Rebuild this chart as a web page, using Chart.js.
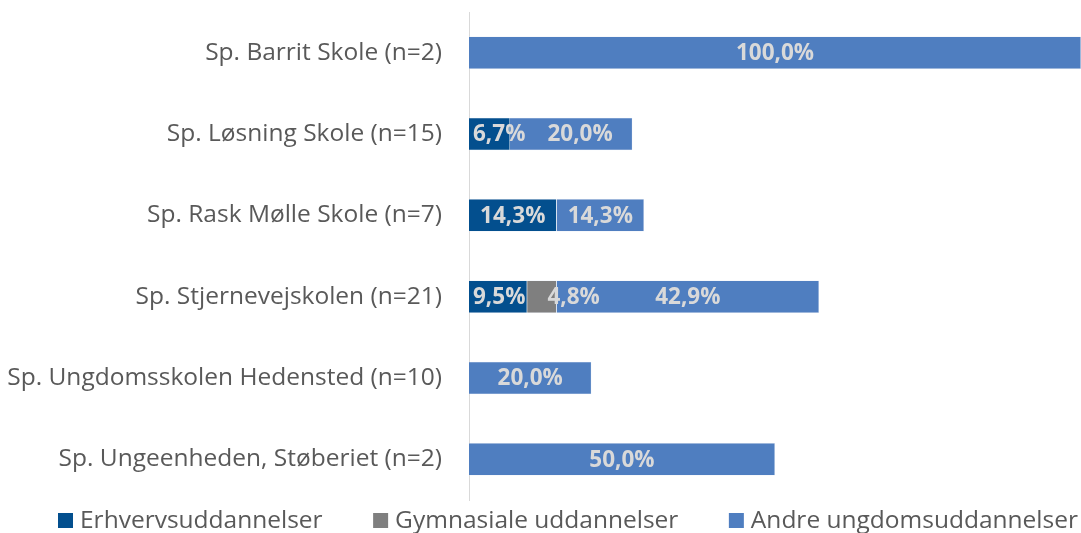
<!DOCTYPE html>
<html>
<head>
<meta charset="utf-8">
<script src="https://cdn.jsdelivr.net/npm/chart.js@4/dist/chart.umd.min.js"></script>
<style>
html,body{margin:0;padding:0;background:#fff;}
#c{display:block;}
</style>
</head>
<body>
<canvas id="c" width="1081" height="533"></canvas>
<script>
const categories = [
  "Sp. Barrit Skole (n=2)",
  "Sp. Løsning Skole (n=15)",
  "Sp. Rask Mølle Skole (n=7)",
  "Sp. Stjernevejskolen (n=21)",
  "Sp. Ungdomsskolen Hedensted (n=10)",
  "Sp. Ungeenheden, Støberiet (n=2)"
];
const seriesNames = ["Erhvervsuddannelser", "Gymnasiale uddannelser", "Andre ungdomsuddannelser"];
const erhverv = [0, 6.7, 14.3, 9.5, 0, 0];
const gymnasiale = [0, 0, 0, 4.8, 0, 0];
const andre = [100.0, 20.0, 14.3, 42.9, 20.0, 50.0];
const colors = ["#034f8e", "#7f7f7f", "#4f7ec0"];

const FONT = "'Open Sans', 'Noto Sans', sans-serif";

const labelPlugin = {
  id: 'barLabels',
  afterDatasetsDraw(chart) {
    const ctx = chart.ctx;
    ctx.save();
    ctx.font = "bold 22.5px " + FONT;
    ctx.fillStyle = "#d9d9d9";
    ctx.textAlign = "left";
    ctx.textBaseline = "middle";
    const n = chart.data.labels.length;
    for (let i = 0; i < n; i++) {
      let prevRight = -Infinity;
      chart.data.datasets.forEach((ds, di) => {
        const v = ds.data[i];
        if (!v) return;
        const el = chart.getDatasetMeta(di).data[i];
        const p = el.getProps(['x', 'y', 'base'], true);
        const txt = v.toFixed(1).replace('.', ',') + '%';
        const w = ctx.measureText(txt).width;
        let left = (p.x + p.base) / 2 - w / 2;
        const minLeft = Math.max(chart.chartArea.left + 4, prevRight + 22);
        if (left < minLeft) left = minLeft;
        ctx.fillText(txt, left, p.y + 1);
        prevRight = left + w;
      });
    }
    ctx.restore();
  }
};

const legendPlugin = {
  id: 'customLegend',
  afterDraw(chart) {
    const ctx = chart.ctx;
    ctx.save();
    ctx.font = "24.5px " + FONT;
    ctx.textBaseline = "middle";
    ctx.textAlign = "left";
    const startX = 58, endX = 1078, yc = 521;
    const items = chart.data.datasets.map(ds => ({ ds, w: 22 + ctx.measureText(ds.label).width }));
    const total = items.reduce((s, it) => s + it.w, 0);
    const gap = (endX - startX - total) / (items.length - 1);
    let x = startX;
    items.forEach(({ ds, w }) => {
      ctx.fillStyle = ds.backgroundColor;
      ctx.fillRect(x, yc - 8, 15, 15);
      ctx.fillStyle = "#595959";
      ctx.fillText(ds.label, x + 22, yc);
      x += w + gap;
    });
    ctx.restore();
  }
};

new Chart(document.getElementById('c'), {
  type: 'bar',
  data: {
    labels: categories,
    datasets: [
      { label: seriesNames[0], data: erhverv, backgroundColor: colors[0] },
      { label: seriesNames[1], data: gymnasiale, backgroundColor: colors[1] },
      { label: seriesNames[2], data: andre, backgroundColor: colors[2] }
    ].map(d => Object.assign(d, { borderColor: '#dfe6f2', borderWidth: 0.5, categoryPercentage: 1, barPercentage: 0.40 }))
  },
  options: {
    indexAxis: 'y',
    responsive: false,
    animation: false,
    devicePixelRatio: 1,
    layout: { padding: { top: 12, right: 0, left: 0, bottom: 33 } },
    scales: {
      x: {
        stacked: true, min: 0, max: 100, display: false
      },
      y: {
        stacked: true,
        grid: { display: false, drawTicks: false },
        border: { display: true, color: '#d9d9d9', width: 1 },
        ticks: { color: '#595959', font: { family: FONT, size: 24.5 }, padding: 27 },
        afterFit(scale) { scale.width = 469; scale.paddingTop = 0; scale.paddingBottom = 0; }
      }
    },
    plugins: {
      tooltip: { enabled: false },
      legend: { display: false }
    }
  },
  plugins: [labelPlugin, legendPlugin]
});
</script>
</body>
</html>
